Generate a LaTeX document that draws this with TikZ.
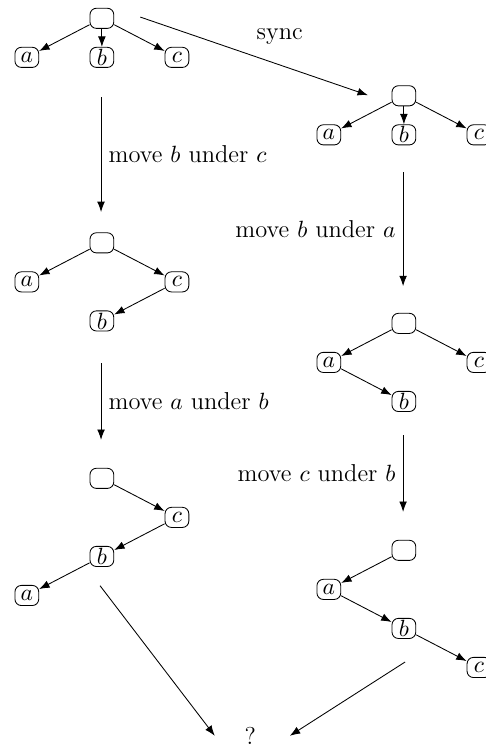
\documentclass[tikz,border=0pt]{standalone}
\usepackage{amsmath,amssymb}
\usepackage{tikz}
\usetikzlibrary{arrows.meta,positioning}

\begin{document}
\begin{tikzpicture}[
  font=\fontsize{11.4}{13.7}\selectfont,
  node distance=0.64cm and 1.23cm, on grid,
  elem/.style={draw, rounded corners=3pt, minimum width=0.39cm,
               minimum height=0.33cm, inner sep=0.5pt},
  link/.style={-{Latex[length=1.7mm]}},
  arr/.style={-{Latex[length=1.7mm]}}
]
\useasboundingbox (0,0) rectangle (7.95,-12.26);

% first tree, before and after sync
\node[elem] (l1) at (1.67,-0.30) {};
\node[elem, below left=of l1] (l1a) {$a$};
\node[elem, below=of l1] (l1b) {$b$};
\node[elem, below right=of l1] (l1c) {$c$};

\node[elem] (r1) at (6.62,-1.57) {};
\node[elem, below left=of r1] (r1a) {$a$};
\node[elem, below=of r1] (r1b) {$b$};
\node[elem, below right=of r1] (r1c) {$c$};

\foreach \t in {l1,r1} {
  \draw[link] (\t) -- (\t a);
  \draw[link] (\t) -- (\t b);
  \draw[link] (\t) -- (\t c);
}

% left replica
\node[elem] (l2) at (1.67,-3.98) {};
\node[elem, below left=of l2] (l2a) {$a$};
\node[elem, below right=of l2] (l2c) {$c$};
\node[elem, below left=of l2c] (l2b) {$b$};
\draw[link] (l2) -- (l2a);
\draw[link] (l2) -- (l2c);
\draw[link] (l2c) -- (l2b);

\node[elem] (l3) at (1.67,-7.84) {};
\node[elem, below right=of l3] (l3c) {$c$};
\node[elem, below left=of l3c] (l3b) {$b$};
\node[elem, below left=of l3b] (l3a) {$a$};
\draw[link] (l3) -- (l3c);
\draw[link] (l3c) -- (l3b);
\draw[link] (l3b) -- (l3a);

% right replica
\node[elem] (r2) at (6.62,-5.30) {};
\node[elem, below left=of r2] (r2a) {$a$};
\node[elem, below right=of r2] (r2c) {$c$};
\node[elem, below right=of r2a] (r2b) {$b$};
\draw[link] (r2) -- (r2a);
\draw[link] (r2) -- (r2c);
\draw[link] (r2a) -- (r2b);

\node[elem] (r3) at (6.62,-9.02) {};
\node[elem, below left=of r3] (r3a) {$a$};
\node[elem, below right=of r3a] (r3b) {$b$};
\node[elem, below right=of r3b] (r3c) {$c$};
\draw[link] (r3) -- (r3a);
\draw[link] (r3a) -- (r3b);
\draw[link] (r3b) -- (r3c);

\node (res) at (4.10,-12.06) {?};

% operations
\coordinate (s0) at (2.30,-0.28);
\coordinate (s1) at (6.03,-1.56);
\coordinate (m1s) at (1.656,-1.59);
\coordinate (m1e) at (1.656,-3.475);
\coordinate (m2s) at (1.656,-5.95);
\coordinate (m2e) at (1.656,-7.21);
\coordinate (m3s) at (6.607,-2.82);
\coordinate (m3e) at (6.607,-4.69);
\coordinate (m4s) at (6.607,-7.13);
\coordinate (m4e) at (6.607,-8.39);
\coordinate (f1) at (1.64,-9.60);
\coordinate (f2) at (6.64,-10.85);
\coordinate (g1) at (3.52,-12.06);
\coordinate (g2) at (4.75,-12.06);

\draw[arr] (s0) -- node[midway, anchor=south west, inner sep=1pt, yshift=4pt] (sync) {sync} (s1);
\draw[arr] (m1s) -- node[right] (op1) {move $b$ under $c$} (m1e);
\draw[arr] (m2s) -- node[right] (op2) {move $a$ under $b$} (m2e);
\draw[arr] (m3s) -- node[left] (op3) {move $b$ under $a$} (m3e);
\draw[arr] (m4s) -- node[left] (op4) {move $c$ under $b$} (m4e);
\draw[arr] (f1) -- (g1);
\draw[arr] (f2) -- (g2);
\end{tikzpicture}
\end{document}
